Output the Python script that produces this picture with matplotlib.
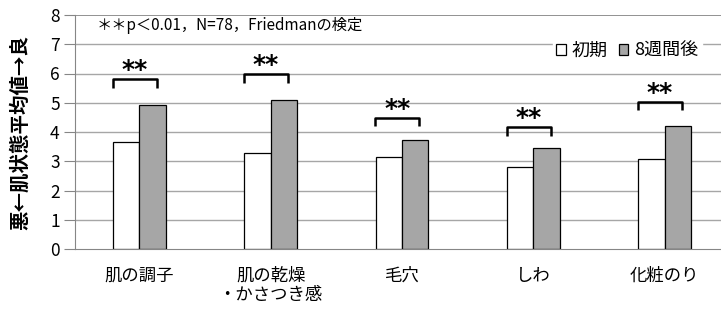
import matplotlib
matplotlib.use("Agg")
import matplotlib.pyplot as plt
import numpy as np

plt.rcParams['font.family'] = ['Noto Sans CJK JP', 'DejaVu Sans']

categories = ["肌の調子", "肌の乾燥\n・かさつき感", "毛穴", "しわ", "化粧のり"]
initial = [3.67, 3.28, 3.13, 2.79, 3.07]
week8 = [4.91, 5.10, 3.73, 3.45, 4.22]
bracket_y = [5.80, 5.97, 4.49, 4.18, 5.04]
series_names = ["初期", "8週間後"]
note = "＊＊p＜0.01，N=78，Friedmanの検定"
ylabel = "悪←肌状態平均値→良"

W, H = 721, 309
x = np.arange(len(categories))
w = 0.2

fig = plt.figure(figsize=(W / 100, H / 100), dpi=100)
ax = fig.add_axes([75 / W, 1 - 249 / H, 1 - 75 / W, 234 / H])

ax.set_ylim(0, 8)
ax.set_xlim(-0.49, 4.43)
ax.set_yticks(range(0, 9))
for v in range(1, 9):
    ax.axhline(v, color="#7f7f7f" if v == 8 else "#a6a6a6", lw=1.2 if v == 8 else 1, zorder=0)

b1 = ax.bar(x - w / 2, initial, w, color="white", edgecolor="black", lw=0.9, zorder=2, label=series_names[0])
b2 = ax.bar(x + w / 2, week8, w, color="#a6a6a6", edgecolor="black", lw=0.9, zorder=2, label=series_names[1])

# significance brackets
for i, by in enumerate(bracket_y):
    cx = i - 0.035
    hw = 0.168
    ax.plot([cx - hw, cx - hw, cx + hw, cx + hw], [by - 0.3, by, by, by - 0.3],
            color="black", lw=1.8, zorder=3, solid_capstyle="butt")
    ax.text(cx, by - 0.1, "**", ha="center", va="bottom", fontsize=18,
            fontweight="bold", family="DejaVu Sans", zorder=3)

for s in ["top", "right"]:
    ax.spines[s].set_visible(False)
ax.spines["left"].set_color("#868686")
ax.spines["bottom"].set_color("#868686")
ax.spines["bottom"].set_zorder(4)

ax.tick_params(axis="y", length=8, color="#868686", labelsize=12.5, pad=3)
ax.tick_params(axis="x", length=0, labelsize=12.5, pad=13)
ax.set_xticks(x)
ax.set_xticklabels(categories, va="top", linespacing=1.1)

fig.text(20 / W, 1 - 133 / H, ylabel, rotation=90, fontsize=14, fontweight="bold",
         ha="center", va="center")

fig.text(97 / W, 1 - 25 / H, note, fontsize=11, va="center", ha="left")

leg = ax.legend(handles=[b1, b2], loc="upper right", bbox_to_anchor=(0.97, 0.9),
                ncol=2, frameon=True, fontsize=13, handlelength=0.55, handleheight=0.55,
                handletextpad=0.3, columnspacing=0.6, borderpad=0.2, borderaxespad=0)
leg.get_frame().set_edgecolor("white")
leg.get_frame().set_facecolor("white")
leg.get_frame().set_alpha(1)
leg.set_zorder(5)

fig.savefig("out.png", dpi=100, facecolor="white")
